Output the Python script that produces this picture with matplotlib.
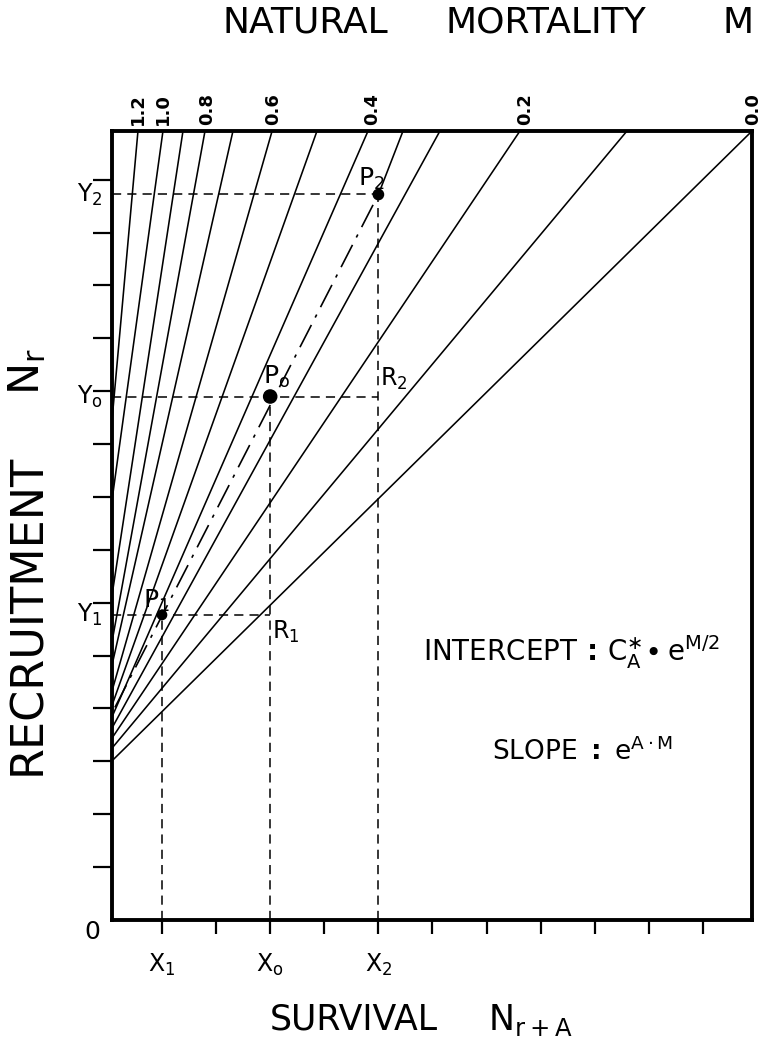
import matplotlib
matplotlib.use("Agg")
import matplotlib.pyplot as plt
from matplotlib.transforms import blended_transform_factory, offset_copy

plt.rcParams['font.family'] = ['DejaVu Sans']
plt.rcParams['mathtext.fontset'] = 'dejavusans'

# Iso-mortality lines, from M = 0.0 upward: recruitment where each line meets
# the left edge, and survival where it leaves the top of the frame
line_left_y = [3.01, 3.25, 3.44, 3.63, 3.84, 4.06, 4.33, 4.82, 5.26, 6.14, 7.94, 9.45]
line_top_x = [11.906, 9.594, 7.616, 6.137, 4.808, 3.865, 3.035, 2.312, 1.795, 1.388, 1.018, 0.556]
mortality_labels = ['0.0', '', '0.2', '', '0.4', '', '0.6', '', '0.8', '', '1.0', '1.2']
mortality_label_x = [11.92, None, 7.71, None, 4.88, None, 3.05, None, 1.83, None, 1.02, 0.556]

# Reference points and their coordinates
point_names = [r'P$\mathregular{_1}$', r'P$\mathregular{_o}$', r'P$\mathregular{_2}$']
point_x = [1.0, 3.0, 5.0]
point_y = [5.77, 9.9, 13.72]
point_size = [45, 90, 55]
x_marks = [r'X$\mathregular{_1}$', r'X$\mathregular{_o}$', r'X$\mathregular{_2}$']
y_marks = [r'Y$\mathregular{_1}$', r'Y$\mathregular{_o}$', r'Y$\mathregular{_2}$']

# stock-recruitment line: dash-dot up to P2, solid beyond it
sr_x = [0.13, 5.0]
sr_y = [4.02, 13.72]
sr_top_x = 5.455

x_ticks = list(range(1, 12))
y_ticks = list(range(1, 15))
x_min, x_max = 0.076, 11.906
y_min, y_max = 0.0, 14.92

fig = plt.figure(figsize=(7.65, 10.45), dpi=100)
ax = fig.add_axes([0.1464, 0.1196, 0.983 - 0.1464, 0.8746 - 0.1196])
ax.set_xlim(x_min, x_max)
ax.set_ylim(y_min, y_max)

for yl, xt in zip(line_left_y, line_top_x):
    ax.plot([x_min, xt], [yl, y_max], color='black', lw=1.15, solid_capstyle='butt')

ax.plot(sr_x, sr_y, color='black', lw=1.2, dashes=(15, 5, 2, 5))
ax.plot([sr_x[-1], sr_top_x], [sr_y[-1], y_max], color='black', lw=1.15)

# guide lines from each point to the axes
dash = (6, 4)
ax.plot([x_min, point_x[2]], [point_y[2], point_y[2]], color='black', lw=1.1, dashes=dash)
ax.plot([point_x[2], point_x[2]], [0, point_y[2]], color='black', lw=1.1, dashes=dash)
ax.plot([x_min, point_x[2]], [point_y[1], point_y[1]], color='black', lw=1.1, dashes=dash)
ax.plot([point_x[1], point_x[1]], [0, point_y[1]], color='black', lw=1.1, dashes=dash)
ax.plot([x_min, point_x[1]], [point_y[0], point_y[0]], color='black', lw=1.1, dashes=dash)
ax.plot([point_x[0], point_x[0]], [0, point_y[0]], color='black', lw=1.1, dashes=dash)

ax.scatter(point_x, point_y, s=point_size, color='black', zorder=5)


def label_at(x, y, s, dx, dy, ha, va, size, rot=0, weight='normal'):
    tr = offset_copy(ax.transData, fig=fig, x=dx, y=dy, units='points')
    ax.text(x, y, s, transform=tr, ha=ha, va=va, fontsize=size, rotation=rot,
            fontweight=weight)


label_at(point_x[0], point_y[0], point_names[0], -14, 1, 'left', 'bottom', 18)
label_at(point_x[1], point_y[1], point_names[1], -5, 5, 'left', 'bottom', 18)
label_at(point_x[2], point_y[2], point_names[2], -15, 2, 'left', 'bottom', 18)
label_at(point_x[1], point_y[0], r'R$\mathregular{_1}$', 1, -3, 'left', 'top', 17)
label_at(point_x[2], point_y[1], r'R$\mathregular{_2}$', 1, 3, 'left', 'bottom', 17)

for lbl, xl in zip(mortality_labels, mortality_label_x):
    if lbl:
        label_at(xl, y_max, lbl, 0, 4, 'center', 'bottom', 13, rot=90, weight='bold')

ax.set_xticks(x_ticks)
ax.set_xticklabels([x_marks[0], '', x_marks[1], '', x_marks[2], '', '', '', '', '', ''], fontsize=17)
ax.set_yticks(y_ticks)
ax.set_yticklabels([])
ax.tick_params(axis='x', direction='out', length=10, width=1.6, pad=13)
ax.tick_params(axis='y', direction='out', length=14, width=1.6)
ytr = blended_transform_factory(ax.transAxes, ax.transData)
for name, yv in zip(y_marks, point_y):
    ax.text(-0.014, yv, name, transform=ytr, ha='right', va='center', fontsize=17)
ax.text(-0.019, 0, '0', transform=ytr, ha='right', va='top', fontsize=18)

for side in ['left', 'right', 'top', 'bottom']:
    ax.spines[side].set_linewidth(2.8)

# axis titles, word by word
fig.text(222 / 765, 0.978, 'NATURAL', ha='left', va='center', fontsize=26)
fig.text(445 / 765, 0.978, 'MORTALITY', ha='left', va='center', fontsize=26)
fig.text(723 / 765, 0.978, 'M', ha='left', va='center', fontsize=26)
fig.text(270 / 765, 0.024, 'SURVIVAL', ha='left', va='center', fontsize=25)
fig.text(488 / 765, 0.024, r'N$\mathregular{_{r+A}}$', ha='left', va='center', fontsize=25)
fig.text(0.036, 1 - 775 / 1045, 'RECRUITMENT', ha='center', va='bottom', rotation=90, fontsize=32)
fig.text(0.036, 1 - 395 / 1045, r'N$\mathregular{_r}$', ha='center', va='bottom', rotation=90, fontsize=31)

ax.text(0.486, 0.34, r'INTERCEPT$\,\mathbf{:}\,$C$\mathregular{^{\ast}_{A}}\!\bullet$e$\mathregular{^{M/2}}$',
        transform=ax.transAxes, ha='left', va='center', fontsize=20)
ax.text(0.594, 0.213, r'SLOPE $\mathbf{:}$ e$\mathregular{^{A\cdot M}}$', transform=ax.transAxes,
        ha='left', va='center', fontsize=19)

fig.savefig('out.png', dpi=100)
